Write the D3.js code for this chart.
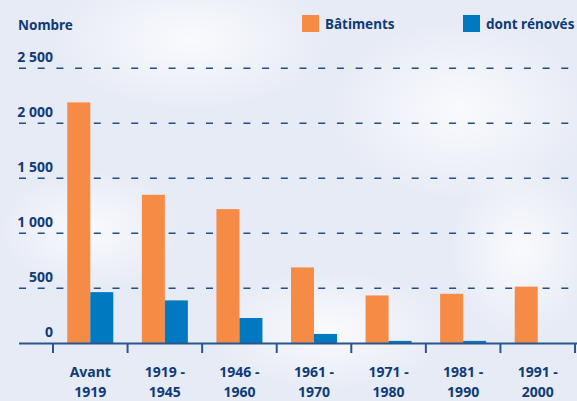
<!DOCTYPE html>
<html>
<head>
<meta charset="utf-8">
<script src="https://cdn.jsdelivr.net/npm/d3@7"></script>
<style>
  html, body { margin: 0; padding: 0; }
  body { width: 577px; height: 401px; overflow: hidden; }
  svg { display: block; font-family: 'Noto Sans', sans-serif; font-weight: 700; }
</style>
</head>
<body>
<div class="chart"></div>
<script>
const categories = ['Avant|1919', '1919 -|1945', '1946 -|1960', '1961 -|1970', '1971 -|1980', '1981 -|1990', '1991 -|2000'];
const batiments = [2190, 1350, 1220, 690, 435, 450, 515];
const renoves = [465, 390, 230, 85, 22, 22, 0];
const seriesNames = ['Bâtiments', 'dont rénovés'];
const yTicks = [0, 500, 1000, 1500, 2000, 2500];

const w = 577;
const h = 401;
const textColor = '#0f3c77';
const color = d3.scaleOrdinal().domain(seriesNames).range(['#f68b45', '#0079c0']);

const svg = d3.select('.chart').append('svg').attr('width', w).attr('height', h);

// background with soft cloud patches
const defs = svg.append('defs');
const grad = defs.append('radialGradient').attr('id', 'cloud');
grad.append('stop').attr('offset', '0%').attr('stop-color', '#fbfcfe').attr('stop-opacity', 0.9);
grad.append('stop').attr('offset', '100%').attr('stop-color', '#fbfcfe').attr('stop-opacity', 0);

svg.append('rect').attr('width', w).attr('height', h).attr('fill', '#e7ebf5');
[[190, 40, 140, 70], [460, 110, 130, 90], [90, 230, 90, 60], [330, 330, 120, 60], [520, 250, 70, 90]].forEach(([cx, cy, rx, ry]) => {
    svg.append('ellipse').attr('cx', cx).attr('cy', cy).attr('rx', rx).attr('ry', ry).attr('fill', 'url(#cloud)');
});

const y = d3.scaleLinear().domain([0, 2500]).range([343.3, 68.3]);
const x0 = d3.scaleBand().domain(categories).range([53, 575]).padding(0);
const x1 = d3.scaleBand().domain(seriesNames).range([0, 46]);
const groupOffset = (x0.bandwidth() - 46) / 2;

// dashed grid lines
svg.append('g')
    .selectAll('line')
    .data(yTicks.filter((d) => d > 0))
    .enter()
    .append('line')
    .attr('x1', 19)
    .attr('x2', w)
    .attr('y1', (d) => y(d))
    .attr('y2', (d) => y(d))
    .attr('stroke', '#1f4f8c')
    .attr('stroke-width', 1.5)
    .attr('stroke-dasharray', '7,11.7');

// y labels
svg.append('g')
    .selectAll('text')
    .data(yTicks)
    .enter()
    .append('text')
    .attr('x', 53)
    .attr('y', (d) => y(d) - 6)
    .attr('text-anchor', 'end')
    .attr('font-size', 14)
    .attr('fill', textColor)
    .text((d) => d3.format(',')(d).replace(/,/g, ' '));

svg.append('text')
    .attr('x', 18)
    .attr('y', 30)
    .attr('font-size', 13.5)
    .attr('fill', textColor)
    .text('Nombre');

// bars
const rows = categories.map((c, i) => ({ cat: c, values: [batiments[i], renoves[i]] }));
const groups = svg.append('g')
    .selectAll('g')
    .data(rows)
    .enter()
    .append('g')
    .attr('transform', (d) => `translate(${x0(d.cat) + groupOffset},0)`);

groups.selectAll('rect')
    .data((d) => d.values.map((v, j) => ({ key: seriesNames[j], value: v })))
    .enter()
    .append('rect')
    .attr('x', (d) => x1(d.key))
    .attr('width', x1.bandwidth())
    .attr('y', (d) => y(d.value))
    .attr('height', (d) => y(0) - y(d.value))
    .attr('fill', (d) => color(d.key));

// x axis
svg.append('line')
    .attr('x1', 19)
    .attr('x2', w)
    .attr('y1', 343.5)
    .attr('y2', 343.5)
    .attr('stroke', '#2a568f')
    .attr('stroke-width', 2);

const tickPos = categories.map((c) => x0(c)).concat([x0.range()[1]]);
svg.append('g')
    .selectAll('line')
    .data(tickPos)
    .enter()
    .append('line')
    .attr('x1', (d) => d)
    .attr('x2', (d) => d)
    .attr('y1', 343)
    .attr('y2', 353)
    .attr('stroke', '#2a568f')
    .attr('stroke-width', 2);

const xLabels = svg.append('g')
    .selectAll('text')
    .data(categories)
    .enter()
    .append('text')
    .attr('text-anchor', 'middle')
    .attr('font-size', 14)
    .attr('fill', textColor);

xLabels.selectAll('tspan')
    .data((d) => d.split('|').map((t) => ({ t, c: d })))
    .enter()
    .append('tspan')
    .attr('x', (d) => x0(d.c) + x0.bandwidth() / 2)
    .attr('y', (d, i) => 377 + i * 20)
    .text((d) => d.t);

// legend
const legend = svg.append('g')
    .selectAll('g')
    .data(seriesNames)
    .enter()
    .append('g')
    .attr('transform', (d, i) => `translate(${i === 0 ? 302 : 463},15)`);

legend.append('rect')
    .attr('width', 17)
    .attr('height', 17)
    .attr('fill', (d) => color(d));

legend.append('text')
    .attr('x', 23)
    .attr('y', 14)
    .attr('font-size', 13.5)
    .attr('fill', textColor)
    .text((d) => d);
</script>
</body>
</html>
